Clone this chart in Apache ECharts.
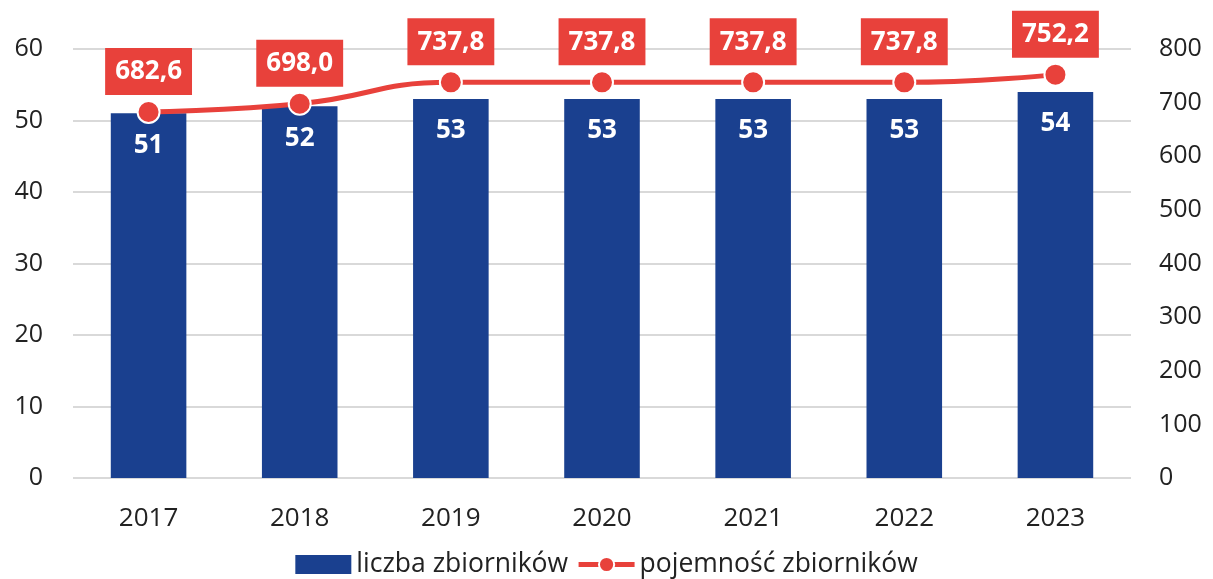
<!DOCTYPE html>
<html>
<head>
<meta charset="utf-8">
<script src="https://cdn.jsdelivr.net/npm/echarts@6/dist/echarts.min.js"></script>
<style>
    html, body { margin: 0; padding: 0; background: #fff; }
    #chart { width: 1213px; height: 579px; }
</style>
</head>
<body>
<div id="chart"></div>
<script>
const years = ['2017', '2018', '2019', '2020', '2021', '2022', '2023']
const tankCount = [51, 52, 53, 53, 53, 53, 54]
const tankCapacity = [682.6, 698.0, 737.8, 737.8, 737.8, 737.8, 752.2]

const fontFamily = '"Open Sans", "Noto Sans", sans-serif'
const formatComma = (v) => v.toFixed(1).replace('.', ',')

const chart = echarts.init(document.getElementById('chart'))

chart.setOption({
    animation: false,
    textStyle: { fontFamily },
    grid: {
        top: 49,
        bottom: 101,
        left: 73,
        right: 82,
    },
    legend: {
        top: 546,
        left: 'center',
        itemGap: 8,
        itemWidth: 56,
        itemHeight: 19,
        textStyle: {
            fontSize: 26.5,
            color: '#222',
            fontFamily,
        },
        data: [
            { name: 'liczba zbiorników', icon: 'rect' },
            { name: 'pojemność zbiorników', lineStyle: { width: 5 } },
        ],
    },
    xAxis: {
        type: 'category',
        data: years,
        axisTick: { show: false },
        axisLine: { show: false },
        axisLabel: {
            color: '#222',
            fontSize: 26,
            margin: 28,
        },
    },
    yAxis: [
        {
            type: 'value',
            min: 0,
            max: 60,
            interval: 10,
            axisLabel: {
                color: '#222',
                fontSize: 25,
                margin: 30,
            },
            splitLine: {
                lineStyle: { color: '#d9d9d9', width: 2 },
            },
        },
        {
            type: 'value',
            min: 0,
            max: 800,
            interval: 100,
            position: 'right',
            axisLabel: {
                color: '#222',
                fontSize: 25,
                margin: 28,
            },
            splitLine: { show: false },
        },
    ],
    series: [
        {
            name: 'liczba zbiorników',
            type: 'bar',
            data: tankCount,
            barWidth: '50%',
            itemStyle: { color: '#1a408f' },
            label: {
                show: true,
                position: 'insideTop',
                distance: 19,
                color: '#fff',
                fontWeight: 'bold',
                fontSize: 26,
            },
        },
        {
            name: 'pojemność zbiorników',
            type: 'line',
            yAxisIndex: 1,
            data: tankCapacity,
            smooth: true,
            symbol: 'circle',
            symbolSize: 22,
            lineStyle: { color: '#e8413b', width: 5 },
            itemStyle: {
                color: '#e8413b',
                borderColor: '#fff',
                borderWidth: 2,
            },
            label: {
                show: true,
                position: 'top',
                distance: 5,
                formatter: (p) => formatComma(p.value),
                color: '#fff',
                backgroundColor: '#e8413b',
                fontWeight: 'bold',
                fontSize: 26,
                lineHeight: 28,
                padding: [10, 10, 9, 10],
            },
        },
    ],
})
</script>
</body>
</html>
